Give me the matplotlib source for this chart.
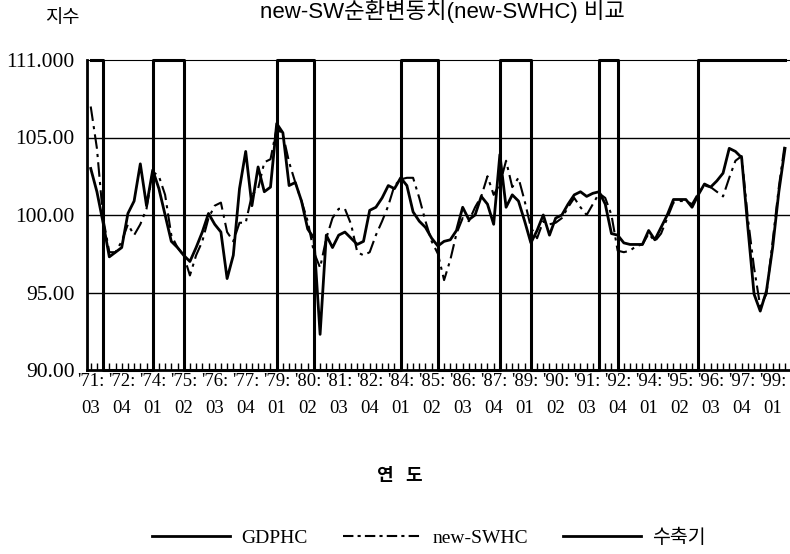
import numpy as np
import matplotlib
matplotlib.use("Agg")
import matplotlib.pyplot as plt
from matplotlib.lines import Line2D

# quarterly series, 1971Q3 onwards
gdphc = [
    103.0, 101.5, 99.5, 97.3, 97.6, 97.9, 100.1, 100.9, 103.3, 100.6,
    102.9, 101.7, 100.0, 98.3, 97.9, 97.4, 97.0, 97.9, 98.9, 100.1,
    99.4, 98.9, 95.9, 97.4, 101.7, 104.1, 100.6, 103.1, 101.5, 101.8,
    105.9, 105.3, 101.9, 102.1, 100.9, 99.1, 98.5, 92.3, 98.7, 97.9,
    98.7, 98.9, 98.5, 98.1, 98.3, 100.3, 100.5, 101.1, 101.9, 101.7,
    102.4, 101.9, 100.2, 99.6, 99.2, 98.5, 98.0, 98.3, 98.4, 99.0,
    100.5, 99.7, 100.0, 101.2, 100.7, 99.4, 103.9, 100.5, 101.3, 100.9,
    99.6, 98.2, 99.0, 100.0, 98.7, 99.8, 100.0, 100.7, 101.3, 101.5,
    101.2, 101.4, 101.5, 100.7, 98.8, 98.7, 98.2, 98.1, 98.1, 98.1,
    99.0, 98.4, 99.2, 100.0, 101.0, 101.0, 101.0, 100.5, 101.3, 102.0,
    101.8, 102.2, 102.7, 104.3, 104.1, 103.7, 99.2, 94.9, 93.8, 95.1,
    97.9, 101.5, 104.3,
]
new_swhc = [
    107.0, 104.3, 99.8, 97.6, 97.6, 98.3, 99.4, 98.7, 99.4, 100.4,
    102.8, 102.5, 101.3, 98.7, 97.9, 97.4, 96.1, 97.4, 98.3, 99.8,
    100.6, 100.8, 98.9, 98.3, 99.5, 99.5, 101.3, 101.7, 103.4, 103.6,
    105.6, 105.2, 103.4, 102.1, 100.9, 99.6, 97.6, 96.6, 98.5, 99.8,
    100.4, 100.4, 99.4, 97.6, 97.4, 97.6, 98.7, 99.6, 100.6, 101.9,
    102.3, 102.4, 102.4, 101.1, 99.6, 98.3, 97.5, 95.8, 97.1, 98.8,
    99.8, 99.6, 100.5, 101.2, 102.5, 101.3, 102.0, 103.5, 101.8, 102.4,
    100.9, 99.2, 98.5, 99.6, 99.4, 99.5, 99.8, 100.5, 101.1, 100.5,
    100.0, 100.7, 101.4, 101.1, 100.0, 97.7, 97.6, 97.7, 98.0, 98.1,
    98.8, 98.3, 98.8, 99.8, 100.8, 100.9, 100.9, 100.7, 101.4, 101.9,
    101.8, 101.5, 101.2, 102.4, 103.5, 103.8, 99.8, 96.6, 94.1, 94.9,
    98.3, 101.8, 104.7,
]

# contraction periods (peak quarter, trough quarter)
contractions = [
    ((1971, 3), (1972, 1)),
    ((1974, 1), (1975, 2)),
    ((1979, 1), (1980, 3)),
    ((1984, 1), (1985, 3)),
    ((1988, 1), (1989, 2)),
    ((1992, 1), (1992, 4)),
    ((1996, 1), (2000, 1)),
]

tick_labels = [
    "'71:\n03", "'72:\n04", "'74:\n01", "'75:\n02", "'76:\n03", "'77:\n04",
    "'79:\n01", "'80:\n02", "'81:\n03", "'82:\n04", "'84:\n01", "'85:\n02",
    "'86:\n03", "'87:\n04", "'89:\n01", "'90:\n02", "'91:\n03", "'92:\n04",
    "'94:\n01", "'95:\n02", "'96:\n03", "'97:\n04", "'99:\n01",
]
ytick_vals = [90, 95, 100, 105, 110]
ytick_text = ["90.00", "95.00", "100.00", "105.00", "111.000"]


def qidx(y, q):
    return (y - 1971) * 4 + (q - 3)


n = len(gdphc)
x = np.arange(n)
flag = np.zeros(n)
for (p, t) in contractions:
    flag[qidx(*p):min(qidx(*t), n)] = 1
contraction_level = np.where(flag > 0, 110, 90)

plt.rcParams["font.family"] = ["Liberation Serif", "Noto Sans CJK KR"]

fig = plt.figure(figsize=(7.9, 5.54), dpi=100)
ax = fig.add_axes([87 / 790, 184 / 554, 703 / 790, 310 / 554])

for v in [95, 100, 105]:
    ax.axhline(v, color="black", lw=1.0, zorder=1)

ax.step(x, contraction_level, where="post", color="black", lw=2.2,
        zorder=3, clip_on=False)
ax.plot(x, gdphc, color="black", lw=2.0, zorder=4)
ax.plot(x, new_swhc, color="black", lw=1.5, ls=(0, (7, 2.5, 1.5, 2.5)),
        zorder=4)

ax.set_xlim(-0.6, 112.8)
ax.set_ylim(90, 110)
ax.set_yticks(ytick_vals)
ax.set_yticklabels(ytick_text, fontsize=15.5)
ax.tick_params(axis="y", length=0, pad=9)

ax.set_xticks(x, minor=True)
ax.set_xticks(x[::5])
ax.set_xticklabels(tick_labels, fontsize=13.5, linespacing=1.75)
ax.tick_params(axis="x", which="both", direction="in", length=5,
               width=1.0, pad=2)

ax.spines["right"].set_visible(False)
ax.spines["top"].set_linewidth(0.8)
ax.spines["left"].set_linewidth(2.0)
ax.spines["bottom"].set_linewidth(2.0)

ax.set_xlabel("연   도", fontsize=13, fontweight="bold",
              family=["Noto Sans CJK KR"])
ax.xaxis.set_label_coords((400 - 87) / 703, -(466 - 370) / 310)

fig.text(62 / 790, 1 - 18 / 554, "지수", fontsize=13.5, ha="center",
         va="center", family=["Noto Sans CJK KR"])
fig.text(0.56, 1 - 18 / 554, "new-SW순환변동치(new-SWHC) 비교",
         fontsize=16, ha="center", va="baseline",
         family=["Liberation Sans", "Noto Sans CJK KR"])

handles = [
    Line2D([], [], color="black", lw=2.0),
    Line2D([], [], color="black", lw=1.5, ls=(0, (5, 2, 1.5, 2))),
    Line2D([], [], color="black", lw=2.0),
]
fig.legend(handles, ["GDPHC", "new-SWHC", "수축기"], loc="center",
           bbox_to_anchor=(0.543, 1 - 538 / 554), ncol=3, frameon=False,
           handlelength=4.0, columnspacing=1.8, handletextpad=0.6,
           prop={"family": ["Liberation Serif", "Noto Sans CJK KR"],
                 "size": 14})

fig.savefig("out.png", dpi=100)
